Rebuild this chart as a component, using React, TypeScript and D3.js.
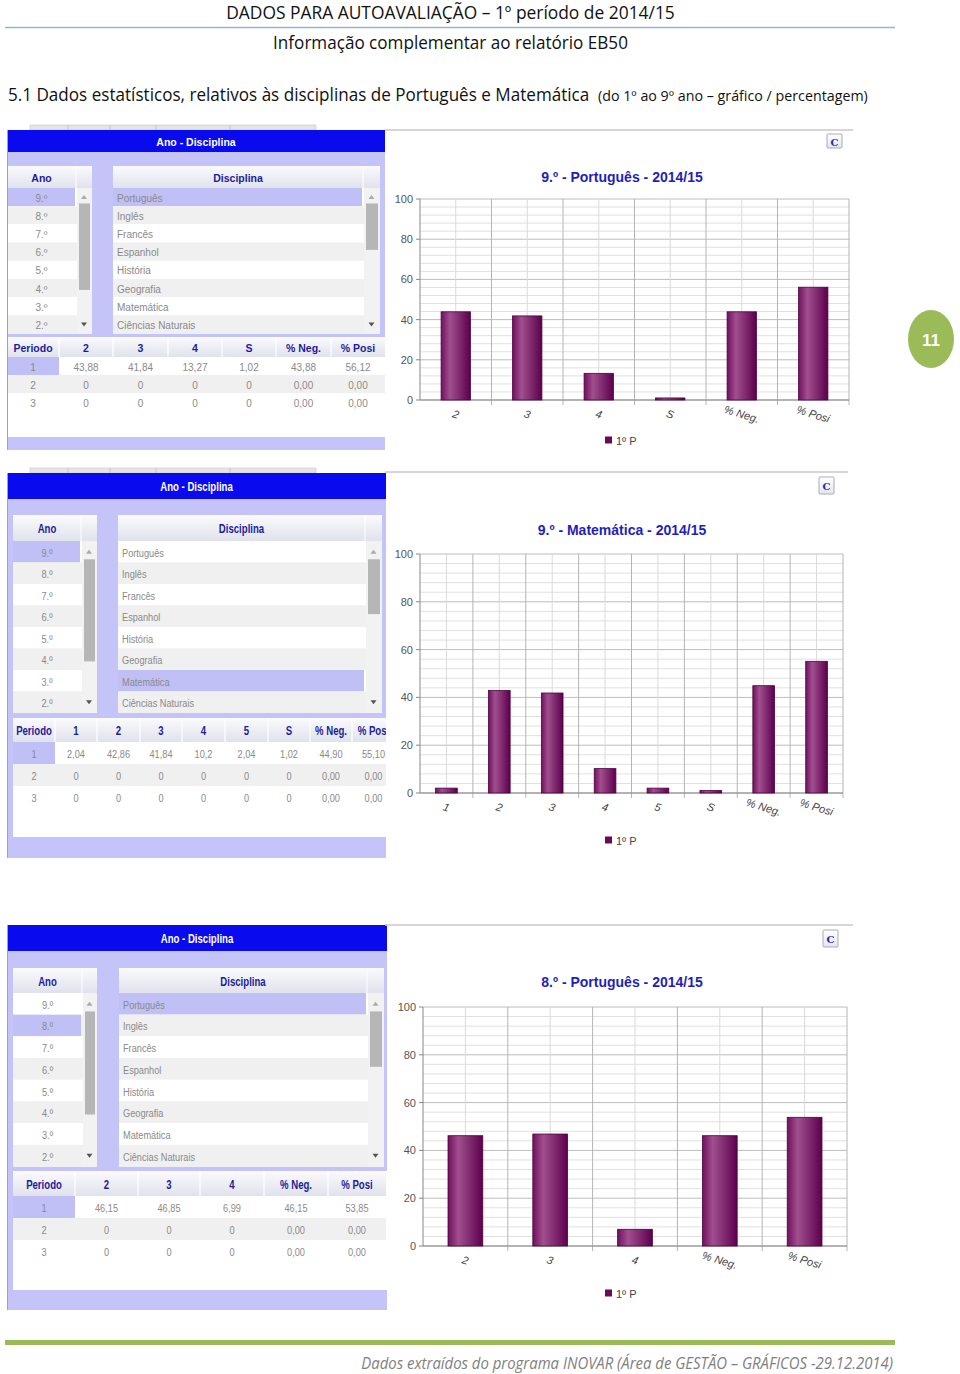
import React, { useLayoutEffect, useRef, useState } from 'react';
import * as d3 from 'd3';

const W = 960;
const H = 1374;
const SANS = "'Liberation Sans', Arial, sans-serif";
const DOC = "'Open Sans', 'Liberation Sans', sans-serif";

// list contents of the INOVAR selectors
const anoItems = ['9.º', '8.º', '7.º', '6.º', '5.º', '4.º', '3.º', '2.º'];
const discItems = ['Português', 'Inglês', 'Francês', 'Espanhol', 'História', 'Geografia', 'Matemática', 'Ciências Naturais'];
const periodos = ['1', '2', '3'];
const yTicks = [0, 20, 40, 60, 80, 100];
const legendLabel = '1º P';

// 9.º Português
const pt9Cats = ['2', '3', '4', 'S', '% Neg.', '% Posi'];
const pt9Vals = [43.88, 41.84, 13.27, 1.02, 43.88, 56.12];
const pt9Table = [
  ['43,88', '41,84', '13,27', '1,02', '43,88', '56,12'],
  ['0', '0', '0', '0', '0,00', '0,00'],
  ['0', '0', '0', '0', '0,00', '0,00'],
];

// 9.º Matemática
const mat9Cats = ['1', '2', '3', '4', '5', 'S', '% Neg.', '% Posi'];
const mat9Vals = [2.04, 42.86, 41.84, 10.2, 2.04, 1.02, 44.9, 55.1];
const mat9Table = [
  ['2,04', '42,86', '41,84', '10,2', '2,04', '1,02', '44,90', '55,10'],
  ['0', '0', '0', '0', '0', '0', '0,00', '0,00'],
  ['0', '0', '0', '0', '0', '0', '0,00', '0,00'],
];

// 8.º Português
const pt8Cats = ['2', '3', '4', '% Neg.', '% Posi'];
const pt8Vals = [46.15, 46.85, 6.99, 46.15, 53.85];
const pt8Table = [
  ['46,15', '46,85', '6,99', '46,15', '53,85'],
  ['0', '0', '0', '0,00', '0,00'],
  ['0', '0', '0', '0,00', '0,00'],
];

interface Geo {
  top: number; barH: number; left: number; right: number; bottom: number;
  ano: number[]; disc: number[];
  listTop: number; headH: number; rowH: number;
  tblTop: number; tblHeadH: number; tblRowH: number; tblBottom: number; tblCols: number[];
  fs: number; sx: number; tabs: boolean;
  c: { left: number; right: number; y0: number; y100: number; titleY: number; legendY: number; topLine: number; lineRight: number; btn: number[] };
}

const panels: { g: Geo; anoSel: number; discSel: number; title: string; cats: string[]; vals: number[]; table: string[][] }[] = [
  {
    g: {
      top: 130, barH: 22, left: 7, right: 385, bottom: 450,
      ano: [7, 76, 92], disc: [113, 363, 380],
      listTop: 166, headH: 22, rowH: 18.2,
      tblTop: 337, tblHeadH: 20, tblRowH: 18, tblBottom: 437, tblCols: [7, 59, 113, 168, 222, 276, 331, 385],
      fs: 10, sx: 1, tabs: true,
      c: { left: 420, right: 849, y0: 400, y100: 199, titleY: 182, legendY: 440, topLine: 130, lineRight: 853, btn: [827, 134, 15, 14] },
    },
    anoSel: 0, discSel: 0, title: '9.º - Português - 2014/15', cats: pt9Cats, vals: pt9Vals, table: pt9Table,
  },
  {
    g: {
      top: 473, barH: 26, left: 7, right: 386, bottom: 858,
      ano: [13, 81, 97], disc: [118, 365, 382],
      listTop: 515, headH: 26, rowH: 21.5,
      tblTop: 718, tblHeadH: 24, tblRowH: 22, tblBottom: 837, tblCols: [13, 55, 97, 140, 182, 225, 268, 310, 352, 395],
      fs: 11.5, sx: 0.8, tabs: true,
      c: { left: 420, right: 843, y0: 793, y100: 554, titleY: 535, legendY: 840, topLine: 472, lineRight: 848, btn: [819, 477, 15, 17] },
    },
    anoSel: 0, discSel: 6, title: '9.º - Matemática - 2014/15', cats: mat9Cats, vals: mat9Vals, table: mat9Table,
  },
  {
    g: {
      top: 925, barH: 26, left: 7, right: 387, bottom: 1310,
      ano: [13, 82, 97], disc: [119, 367, 384],
      listTop: 968, headH: 25, rowH: 21.7,
      tblTop: 1171, tblHeadH: 25, tblRowH: 22, tblBottom: 1290, tblCols: [13, 75, 138, 200, 264, 328, 386],
      fs: 11.5, sx: 0.8, tabs: false,
      c: { left: 423, right: 847, y0: 1246, y100: 1007, titleY: 987, legendY: 1293, topLine: 925, lineRight: 853, btn: [823, 930, 15, 17] },
    },
    anoSel: 1, discSel: 0, title: '8.º - Português - 2014/15', cats: pt8Cats, vals: pt8Vals, table: pt8Table,
  },
];

const LAV = '#c4c4f8';
const SEL = '#c0c0f6';
const ALT = '#f0f0f0';
const HEAD_TXT = '#1c1c9c';
const CELL_TXT = '#8a8a8a';

// horizontally condensed text (the INOVAR tables use a narrow font)
function T({ x, y, sx, anchor = 'middle', fs, bold, fill, children }: any) {
  return (
    <text transform={`translate(${x},${y}) scale(${sx},1)`} textAnchor={anchor} dominantBaseline="central"
      fontFamily={SANS} fontSize={fs} fontWeight={bold ? 'bold' : 'normal'} fill={fill}>{children}</text>
  );
}

// document text squeezed to the width it has in the page (Calibri-like)
function FitText({ x, y, width, anchor = 'start', fs, italic, fill = '#111', children }: any) {
  const ref = useRef<SVGTextElement>(null);
  const [k, setK] = useState(1);
  useLayoutEffect(() => {
    const w = ref.current ? ref.current.getComputedTextLength() : 0;
    if (w > 0) setK(width / w);
  }, [width]);
  return (
    <text ref={ref} transform={`translate(${x},${y}) scale(${k},1)`} textAnchor={anchor}
      fontFamily={DOC} fontSize={fs} fontStyle={italic ? 'italic' : 'normal'} fill={fill}>{children}</text>
  );
}

function ListBox({ x0, xs, x1, top, headH, rowH, label, items, sel, thumbEnd, fs, sx, align }: any) {
  const rowsTop = top + headH;
  const bottom = rowsTop + items.length * rowH;
  return (
    <g>
      <rect x={x0} y={top} width={x1 - x0} height={bottom - top} fill="#fff" />
      <rect x={x0} y={top} width={xs - x0} height={headH} fill="url(#headGrad)" />
      <rect x={xs} y={top} width={x1 - xs} height={headH} fill="url(#headGrad)" />
      <line x1={xs} x2={xs} y1={top} y2={top + headH} stroke="#fff" />
      <T x={(x0 + xs) / 2} y={top + headH / 2 + 1} sx={sx} fs={fs + 0.5} bold fill={HEAD_TXT}>{label}</T>
      {items.map((it: string, i: number) => {
        const y = rowsTop + i * rowH;
        const fill = i === sel ? SEL : i % 2 === 1 ? ALT : '#fff';
        return (
          <g key={it}>
            <rect x={x0} y={y} width={x1 - x0} height={rowH} fill={i % 2 === 1 ? ALT : '#fff'} />
            <rect x={x0} y={y} width={xs - x0 - 1} height={rowH} fill={fill} />
            <T x={align === 'middle' ? (x0 + xs) / 2 : x0 + 4} y={y + rowH / 2 + 1} sx={sx} anchor={align}
              fs={fs} fill={CELL_TXT}>{it}</T>
          </g>
        );
      })}
      {/* scrollbar */}
      <rect x={xs + 1} y={rowsTop} width={x1 - xs - 1} height={bottom - rowsTop} fill="#f2f2f2" />
      <rect x={xs + 3} y={rowsTop + 0.85 * rowH} width={x1 - xs - 5} height={(thumbEnd - 0.85) * rowH} fill="#b6b6b6" />
      <path d={`M${(xs + x1) / 2 - 3},${rowsTop + rowH / 2 + 2} l3,-4 l3,4 z`} fill="#aaa" />
      <path d={`M${(xs + x1) / 2 - 3},${bottom - rowH / 2 - 2} l3,4 l3,-4 z`} fill="#555" />
    </g>
  );
}

function Panel({ p, idx }: any) {
  const g: Geo = p.g;
  const heads = ['Periodo', ...p.cats];
  const tblRowsTop = g.tblTop + g.tblHeadH;
  return (
    <g>
      <clipPath id={`clip${idx}`}>
        <rect x={g.left} y={g.top - 10} width={g.right - g.left} height={g.bottom - g.top + 20} />
      </clipPath>
      {g.tabs && (
        <g>
          <rect x={30} y={g.top - 5} width={286} height={5} fill="#e4e4e4" stroke="#c8c8c8" strokeWidth={0.6} />
          {[68, 110, 156, 230].map((tx) => (
            <line key={tx} x1={tx} x2={tx} y1={g.top - 5} y2={g.top} stroke="#bbb" strokeWidth={0.8} />
          ))}
        </g>
      )}
      <rect x={g.left} y={g.top + g.barH} width={g.right - g.left} height={g.bottom - g.top - g.barH} fill={LAV} />
      <rect x={g.left} y={g.top} width={g.right - g.left} height={g.barH} fill="#0a0aee" />
      <T x={(g.left + g.right) / 2} y={g.top + g.barH / 2 + 1} sx={g.sx} fs={g.fs + 0.5} bold fill="#fff">Ano - Disciplina</T>

      <ListBox x0={g.ano[0]} xs={g.ano[1]} x1={g.ano[2]} top={g.listTop} headH={g.headH} rowH={g.rowH}
        label="Ano" items={anoItems} sel={p.anoSel} thumbEnd={5.6} fs={g.fs} sx={g.sx} align="middle" />
      <ListBox x0={g.disc[0]} xs={g.disc[1]} x1={g.disc[2]} top={g.listTop} headH={g.headH} rowH={g.rowH}
        label="Disciplina" items={discItems} sel={p.discSel} thumbEnd={3.4} fs={g.fs} sx={g.sx} align="start" />

      {/* period table */}
      <g clipPath={`url(#clip${idx})`}>
        <rect x={g.tblCols[0]} y={g.tblTop} width={g.right - g.tblCols[0]} height={g.tblBottom - g.tblTop} fill="#fff" />
        {heads.map((h: string, i: number) => {
          const x0 = g.tblCols[i];
          const x1 = g.tblCols[i + 1];
          return (
            <g key={h}>
              <rect x={x0} y={g.tblTop} width={x1 - x0} height={g.tblHeadH} fill="url(#headGrad)" />
              {i > 0 && <line x1={x0} x2={x0} y1={g.tblTop} y2={g.tblTop + g.tblHeadH} stroke="#fff" strokeWidth={1.2} />}
              <T x={(x0 + x1) / 2} y={g.tblTop + g.tblHeadH / 2 + 1} sx={g.sx} fs={g.fs + 0.5} bold fill={HEAD_TXT}>{h}</T>
            </g>
          );
        })}
        {periodos.map((per, r) => {
          const y = tblRowsTop + r * g.tblRowH;
          const right = g.tblCols[g.tblCols.length - 1];
          return (
            <g key={per}>
              <rect x={g.tblCols[0]} y={y} width={right - g.tblCols[0]} height={g.tblRowH} fill={r === 1 ? ALT : '#fff'} />
              {r === 0 && <rect x={g.tblCols[0]} y={y} width={g.tblCols[1] - g.tblCols[0]} height={g.tblRowH} fill={SEL} />}
              {[per, ...p.table[r]].map((v: string, c: number) => (
                <T key={c} x={(g.tblCols[c] + g.tblCols[c + 1]) / 2} y={y + g.tblRowH / 2 + 1} sx={g.sx}
                  fs={g.fs} fill={CELL_TXT}>{v}</T>
              ))}
            </g>
          );
        })}
      </g>
      <line x1={g.left + 0.5} x2={g.left + 0.5} y1={g.top} y2={g.bottom} stroke="#9a9ae6" />
      <Chart g={g} cats={p.cats} vals={p.vals} title={p.title} />
    </g>
  );
}

function Chart({ g, cats, vals, title }: any) {
  const c = g.c;
  const x = d3.scaleBand<string>().domain(cats).range([c.left, c.right]);
  const y = d3.scaleLinear().domain([0, 100]).range([c.y0, c.y100]);
  const bw = x.bandwidth();
  const barW = bw * 0.41;
  const minor = d3.range(0, 101, 4);
  const bounds = [...cats.map((k: string) => x(k) as number), c.right];
  const titleX = 622;
  const [bx, by, bwid, bh] = c.btn;
  return (
    <g>
      <line x1={385} x2={c.lineRight} y1={c.topLine} y2={c.topLine} stroke="#c8c8c8" strokeWidth={1.5} />
      <rect x={bx} y={by} width={bwid} height={bh} fill="url(#btnGrad)" stroke="#a8acb8" strokeWidth={1} rx={1} />
      <text x={bx + bwid / 2} y={by + bh / 2 + 1} textAnchor="middle" dominantBaseline="central"
        fontFamily="'DejaVu Serif', serif" fontSize={10} fontWeight="bold" fill="#2a2ab0">C</text>
      <text x={titleX} y={c.titleY} textAnchor="middle" fontFamily={SANS} fontSize={14} fontWeight="bold" fill="#1f1fb8">{title}</text>

      {/* grid */}
      {minor.map((v) => (
        <line key={'m' + v} x1={c.left} x2={c.right} y1={y(v)} y2={y(v)} stroke={v % 20 === 0 ? '#bdbdbd' : '#e0e0e0'} strokeWidth={1} />
      ))}
      {cats.map((k: string) => (
        <line key={'vc' + k} x1={(x(k) as number) + bw / 2} x2={(x(k) as number) + bw / 2} y1={c.y100} y2={c.y0} stroke="#dadada" />
      ))}
      {bounds.map((bx2: number, i: number) => (
        <line key={'vb' + i} x1={bx2} x2={bx2} y1={c.y100} y2={c.y0 + (i === 0 ? 0 : 5)} stroke={i === 0 ? '#888' : '#b4b4b4'} />
      ))}
      <line x1={c.left} x2={c.right} y1={c.y0} y2={c.y0} stroke="#888" />
      {yTicks.map((t) => (
        <g key={'yt' + t}>
          <line x1={c.left - 4} x2={c.left} y1={y(t)} y2={y(t)} stroke="#888" />
          <text x={c.left - 7} y={y(t)} textAnchor="end" dominantBaseline="central" fontFamily={SANS} fontSize={11} fill="#555">{t}</text>
        </g>
      ))}

      {/* bars */}
      {cats.map((k: string, i: number) => {
        const cx = (x(k) as number) + bw / 2;
        return (
          <rect key={'b' + k} x={cx - barW / 2} y={y(vals[i])} width={barW} height={c.y0 - y(vals[i])}
            fill="url(#barGrad)" stroke="#4e0242" strokeWidth={0.8} />
        );
      })}
      {cats.map((k: string) => {
        const cx = (x(k) as number) + bw / 2;
        const ly = c.y0 + 14;
        return (
          <text key={'xl' + k} x={cx} y={ly} textAnchor="middle" dominantBaseline="central" transform={`rotate(17 ${cx} ${ly})`}
            fontFamily={SANS} fontSize={11} fontStyle="italic" fill="#444">{k}</text>
        );
      })}

      {/* legend */}
      <rect x={titleX - 17} y={c.legendY - 3.5} width={7} height={7} fill="#6a0a5a" />
      <text x={titleX - 6} y={c.legendY + 1} dominantBaseline="central" fontFamily={SANS} fontSize={11} fill="#444">{legendLabel}</text>
    </g>
  );
}

export default function App() {
  return (
    <svg width={W} height={H} viewBox={`0 0 ${W} ${H}`} style={{ position: 'absolute', left: 0, top: 0, background: '#fff' }}>
      <defs>
        <linearGradient id="barGrad" x1="0" y1="0" x2="1" y2="0">
          <stop offset="0%" stopColor="#70105e" />
          <stop offset="30%" stopColor="#a14f8f" />
          <stop offset="100%" stopColor="#5c004c" />
        </linearGradient>
        <linearGradient id="headGrad" x1="0" y1="0" x2="0" y2="1">
          <stop offset="0%" stopColor="#fbfbfd" />
          <stop offset="100%" stopColor="#e0e2ec" />
        </linearGradient>
        <linearGradient id="btnGrad" x1="0" y1="0" x2="0" y2="1">
          <stop offset="0%" stopColor="#ffffff" />
          <stop offset="100%" stopColor="#e4e6ee" />
        </linearGradient>
      </defs>

      {/* page header */}
      <FitText x={450.5} y={19} width={449} anchor="middle" fs={18}>DADOS PARA AUTOAVALIAÇÃO – 1º período de 2014/15</FitText>
      <line x1={5} x2={895} y1={27.5} y2={27.5} stroke="#95b3d7" strokeWidth={1.5} />
      <FitText x={450.5} y={49} width={355} anchor="middle" fs={17.5}>Informação complementar ao relatório EB50</FitText>
      <FitText x={8} y={101} width={582} fs={18.5}>5.1 Dados estatísticos, relativos às disciplinas de Português e Matemática</FitText>
      <FitText x={598} y={101} width={270} fs={14.5}>(do 1º ao 9º ano – gráfico / percentagem)</FitText>

      {panels.map((p, i) => (
        <Panel key={i} p={p} idx={i} />
      ))}

      {/* page number */}
      <ellipse cx={931} cy={339} rx={23} ry={29} fill="#9bbb59" />
      <text x={931} y={340} textAnchor="middle" dominantBaseline="central" fontFamily={SANS} fontSize={17} fontWeight="bold" fill="#fff">11</text>

      {/* footer */}
      <rect x={5} y={1340} width={890} height={5} fill="#9bbb59" />
      <FitText x={893} y={1369} width={532} anchor="end" fs={16} italic fill="#7f7f7f">
        Dados extraídos do programa INOVAR (Área de GESTÃO – GRÁFICOS -29.12.2014)
      </FitText>
    </svg>
  );
}
